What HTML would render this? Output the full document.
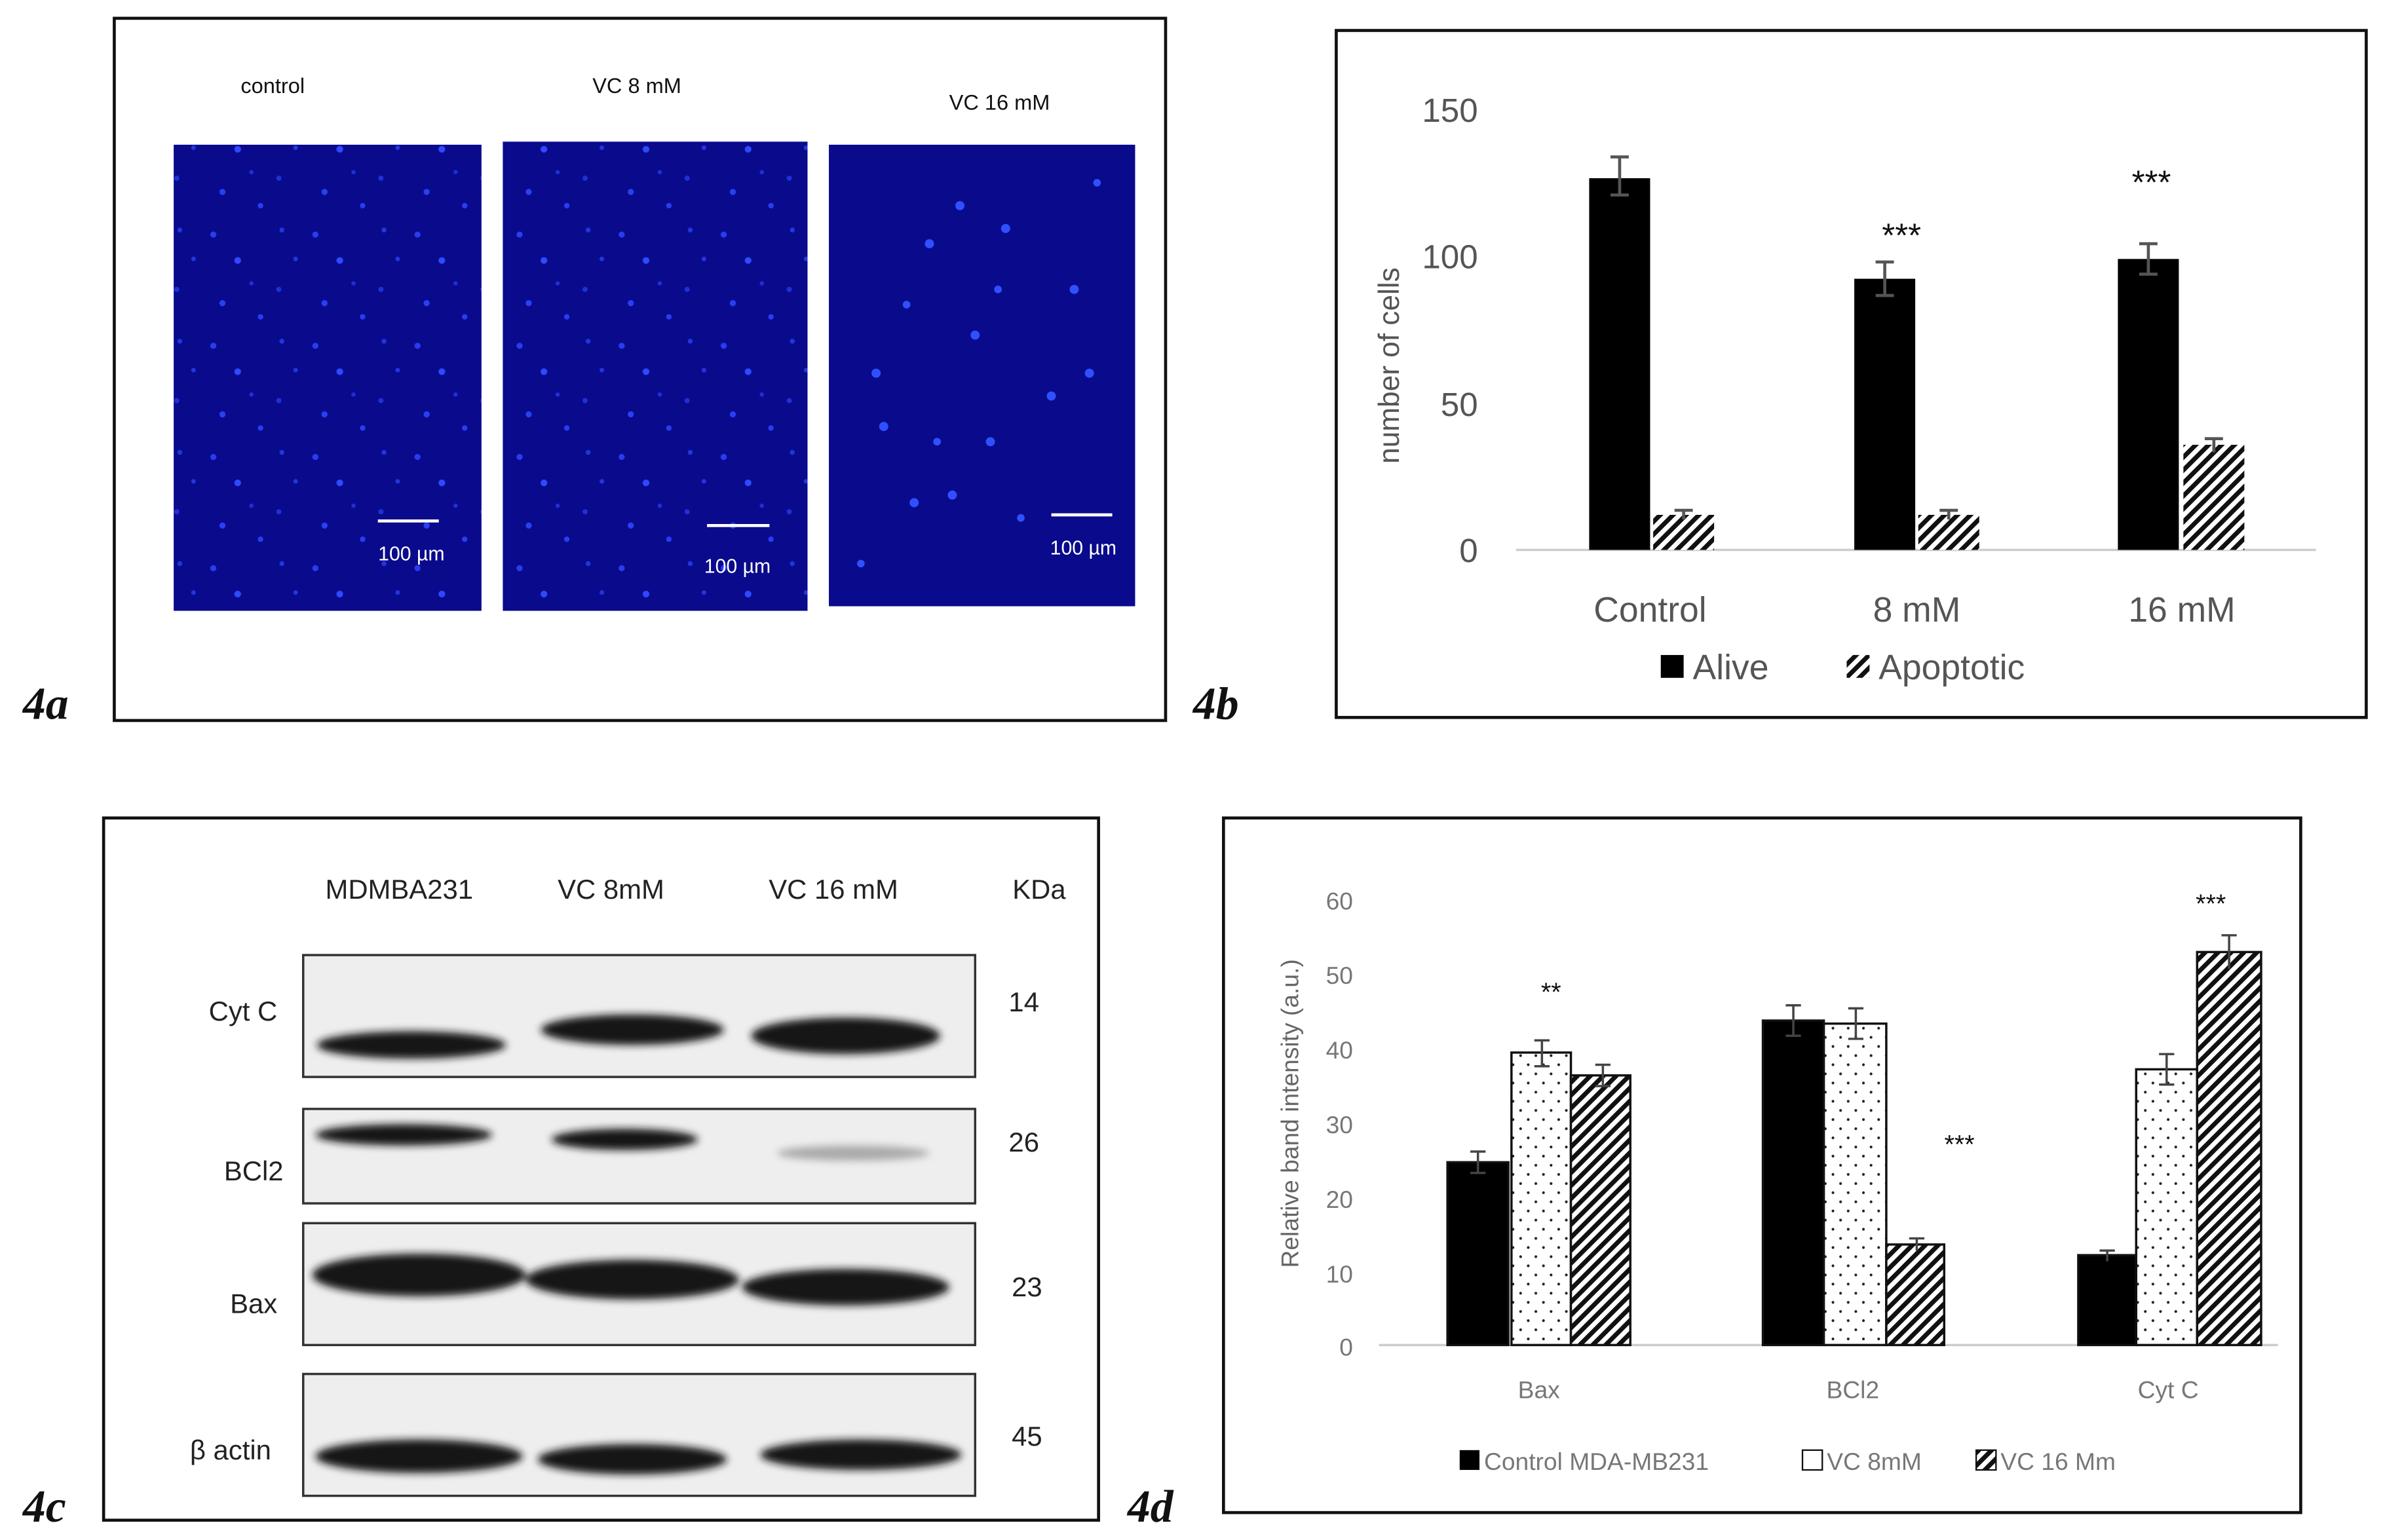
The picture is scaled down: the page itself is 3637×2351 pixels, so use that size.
<!DOCTYPE html>
<html><head><meta charset="utf-8"><style>html,body{margin:0;padding:0;background:#fff}svg{display:block}</style></head><body>
<svg xmlns="http://www.w3.org/2000/svg" width="3637" height="2351" viewBox="0 0 1564 1011" preserveAspectRatio="none" font-family="Liberation Sans, sans-serif">
<defs>
<pattern id="hatch" width="6" height="6" patternUnits="userSpaceOnUse" patternTransform="rotate(45)"><rect width="6" height="6" fill="#fff"/><rect width="3" height="6" fill="#111"/></pattern>
<pattern id="dots" width="10" height="12" patternUnits="userSpaceOnUse"><rect width="10" height="12" fill="#fff"/><circle cx="3" cy="3" r="0.9" fill="#222"/><circle cx="8" cy="9" r="0.9" fill="#222"/></pattern>
<pattern id="cells" width="67" height="73" patternUnits="userSpaceOnUse"><rect width="67" height="73" fill="#0a0a8c"/><circle cx="6" cy="8" r="2" fill="#2a3cf0"/><circle cx="22" cy="25" r="2.2" fill="#3048ff"/><circle cx="51" cy="5" r="1.6" fill="#2236e0"/><circle cx="12" cy="53" r="2" fill="#2840f5"/><circle cx="49" cy="44" r="1.7" fill="#1e30d8"/><circle cx="37" cy="62" r="1.8" fill="#2a3cf0"/><circle cx="60" cy="24" r="1.5" fill="#2236e0"/><circle cx="31" cy="40" r="1.4" fill="#1e30d8"/></pattern>
<filter id="blur"><feGaussianBlur stdDeviation="2.5"/></filter>
</defs>
<!-- 4a -->
<rect x="75" y="12" width="690" height="461" fill="none" stroke="#111" stroke-width="2"/>
<rect x="114" y="95" width="202" height="306" fill="url(#cells)"/>
<rect x="330" y="93" width="200" height="308" fill="url(#cells)"/>
<rect x="544" y="95" width="201" height="303" fill="#0a0a8c"/>
<g fill="#3050ff"><circle cx="575" cy="245" r="3"/><circle cx="610" cy="160" r="3"/><circle cx="640" cy="220" r="3"/><circle cx="690" cy="260" r="3"/><circle cx="715" cy="245" r="3"/><circle cx="600" cy="330" r="3"/><circle cx="625" cy="325" r="3"/><circle cx="660" cy="150" r="3"/><circle cx="580" cy="280" r="3"/><circle cx="650" cy="290" r="3"/><circle cx="705" cy="190" r="3"/><circle cx="630" cy="135" r="3"/><circle cx="595" cy="200" r="2.5"/><circle cx="670" cy="340" r="2.5"/><circle cx="565" cy="370" r="2.5"/><circle cx="720" cy="120" r="2.5"/><circle cx="655" cy="190" r="2.5"/><circle cx="615" cy="290" r="2.5"/></g>
<g stroke="#fff" stroke-width="2"><line x1="248" y1="342" x2="288" y2="342"/><line x1="464" y1="345" x2="505" y2="345"/><line x1="690" y1="338" x2="730" y2="338"/></g>
<g fill="#fff" font-size="13" text-anchor="middle"><text x="270" y="368">100 µm</text><text x="484" y="376">100 µm</text><text x="711" y="364">100 µm</text></g>
<g fill="#111" font-size="14" text-anchor="middle"><text x="179" y="61">control</text><text x="418" y="61">VC 8 mM</text><text x="656" y="72">VC 16 mM</text></g>
<g font-family="Liberation Serif, serif" font-style="italic" font-weight="bold" font-size="30" fill="#111"><text x="15" y="472">4a</text><text x="783" y="472">4b</text><text x="15" y="999">4c</text><text x="740" y="999">4d</text></g>
<!-- 4b -->
<rect x="877" y="20" width="676" height="451" fill="none" stroke="#111" stroke-width="2"/>
<line x1="995" y1="361" x2="1520" y2="361" stroke="#ccc" stroke-width="1.5"/>
<g fill="#555" font-size="22" text-anchor="end"><text x="970" y="80">150</text><text x="970" y="176">100</text><text x="970" y="273">50</text><text x="970" y="369">0</text></g>
<text transform="translate(918,240) rotate(-90)" text-anchor="middle" font-size="19" fill="#555">number of cells</text>
<rect x="1043" y="117" width="40" height="244" fill="#000"/>
<rect x="1085" y="338" width="40" height="23" fill="url(#hatch)"/>
<rect x="1217" y="183" width="40" height="178" fill="#000"/>
<rect x="1259" y="338" width="40" height="23" fill="url(#hatch)"/>
<rect x="1390" y="170" width="40" height="191" fill="#000"/>
<rect x="1433" y="292" width="40" height="69" fill="url(#hatch)"/>
<g stroke="#555" stroke-width="2"><path d="M1063 103V128M1057 103H1069M1057 128H1069"/><path d="M1237 172V194M1231 172H1243M1231 194H1243"/><path d="M1410 160V180M1404 160H1416M1404 180H1416"/><path d="M1453 288V297M1447 288H1459"/><path d="M1105 335V341M1099 335H1111"/><path d="M1279 335V341M1273 335H1285"/></g>
<g font-size="22" fill="#111" text-anchor="middle"><text x="1248" y="162">***</text><text x="1412" y="127">***</text></g>
<g fill="#555" font-size="23" text-anchor="middle"><text x="1083" y="408">Control</text><text x="1258" y="408">8 mM</text><text x="1432" y="408">16 mM</text></g>
<rect x="1090" y="430" width="15" height="15" fill="#000"/><text x="1111" y="446" font-size="23" fill="#555">Alive</text>
<rect x="1212" y="430" width="15" height="15" fill="url(#hatch)"/><text x="1233" y="446" font-size="23" fill="#555">Apoptotic</text>
<!-- 4c -->
<rect x="68" y="537" width="653" height="461" fill="none" stroke="#111" stroke-width="2"/>
<g font-size="18" fill="#222" text-anchor="middle"><text x="262" y="590">MDMBA231</text><text x="401" y="590">VC 8mM</text><text x="547" y="590">VC 16 mM</text><text x="682" y="590">KDa</text></g>
<g font-size="18" fill="#222" text-anchor="end"><text x="182" y="670">Cyt C</text><text x="186" y="775">BCl2</text><text x="182" y="862">Bax</text><text x="178" y="958">β actin</text></g>
<g font-size="18" fill="#222"><text x="662" y="664">14</text><text x="662" y="756">26</text><text x="664" y="851">23</text><text x="664" y="949">45</text></g>
<g fill="#eeeeee" stroke="#333" stroke-width="1.5"><rect x="199" y="627" width="441" height="80"/><rect x="199" y="728" width="441" height="62"/><rect x="199" y="803" width="441" height="80"/><rect x="199" y="902" width="441" height="80"/></g>
<g filter="url(#blur)" fill="#151515">
<ellipse cx="270" cy="686" rx="62" ry="9"/><ellipse cx="415" cy="676" rx="60" ry="10"/><ellipse cx="555" cy="680" rx="62" ry="12"/>
<ellipse cx="265" cy="745" rx="58" ry="7"/><ellipse cx="410" cy="748" rx="48" ry="7"/><ellipse cx="560" cy="757" rx="50" ry="5" fill="#aaa"/>
<ellipse cx="275" cy="837" rx="70" ry="14"/><ellipse cx="415" cy="840" rx="70" ry="13"/><ellipse cx="555" cy="845" rx="68" ry="12"/>
<ellipse cx="275" cy="956" rx="68" ry="11"/><ellipse cx="415" cy="958" rx="62" ry="10"/><ellipse cx="565" cy="955" rx="66" ry="10"/></g>
<!-- 4d -->
<rect x="803" y="537" width="707" height="456" fill="none" stroke="#111" stroke-width="2"/>
<line x1="905" y1="883" x2="1495" y2="883" stroke="#ccc" stroke-width="1.5"/>
<g fill="#777" font-size="16" text-anchor="end"><text x="888" y="597">60</text><text x="888" y="646">50</text><text x="888" y="695">40</text><text x="888" y="744">30</text><text x="888" y="793">20</text><text x="888" y="842">10</text><text x="888" y="890">0</text></g>
<text transform="translate(852,731) rotate(-90)" text-anchor="middle" font-size="16" fill="#666">Relative band  intensity (a.u.)</text>
<g stroke="#111" stroke-width="1.5">
<rect x="950" y="763" width="40" height="120" fill="#000"/><rect x="992" y="691" width="39" height="192" fill="url(#dots)"/><rect x="1031" y="706" width="39" height="177" fill="url(#hatch)"/>
<rect x="1157" y="670" width="40" height="213" fill="#000"/><rect x="1197" y="672" width="41" height="211" fill="url(#dots)"/><rect x="1238" y="817" width="38" height="66" fill="url(#hatch)"/>
<rect x="1364" y="824" width="38" height="59" fill="#000"/><rect x="1402" y="702" width="40" height="181" fill="url(#dots)"/><rect x="1442" y="625" width="42" height="258" fill="url(#hatch)"/></g>
<g stroke="#444" stroke-width="1.5" fill="none"><path d="M970 756V770M965 756H975M965 770H975"/><path d="M1012 683V700M1007 683H1017M1007 700H1017"/><path d="M1052 699V713M1047 699H1057M1047 713H1057"/><path d="M1177 660V680M1172 660H1182M1172 680H1182"/><path d="M1218 662V682M1213 662H1223M1213 682H1223"/><path d="M1258 813V821M1253 813H1263"/><path d="M1383 821V828M1378 821H1388"/><path d="M1422 692V712M1417 692H1427M1417 712H1427"/><path d="M1463 614V636M1458 614H1468"/></g>
<g font-size="17" fill="#111" text-anchor="middle"><text x="1018" y="657">**</text><text x="1286" y="757">***</text><text x="1451" y="599">***</text></g>
<g fill="#777" font-size="16" text-anchor="middle"><text x="1010" y="918">Bax</text><text x="1216" y="918">BCl2</text><text x="1423" y="918">Cyt C</text></g>
<rect x="958" y="952" width="13" height="13" fill="#000"/><text x="974" y="965" font-size="16" fill="#777">Control MDA-MB231</text>
<rect x="1183" y="952" width="13" height="13" fill="#fff" stroke="#111"/><text x="1199" y="965" font-size="16" fill="#777">VC 8mM</text>
<rect x="1297" y="952" width="13" height="13" fill="url(#hatch)" stroke="#111"/><text x="1313" y="965" font-size="16" fill="#777">VC 16 Mm</text>
</svg>
</body></html>
